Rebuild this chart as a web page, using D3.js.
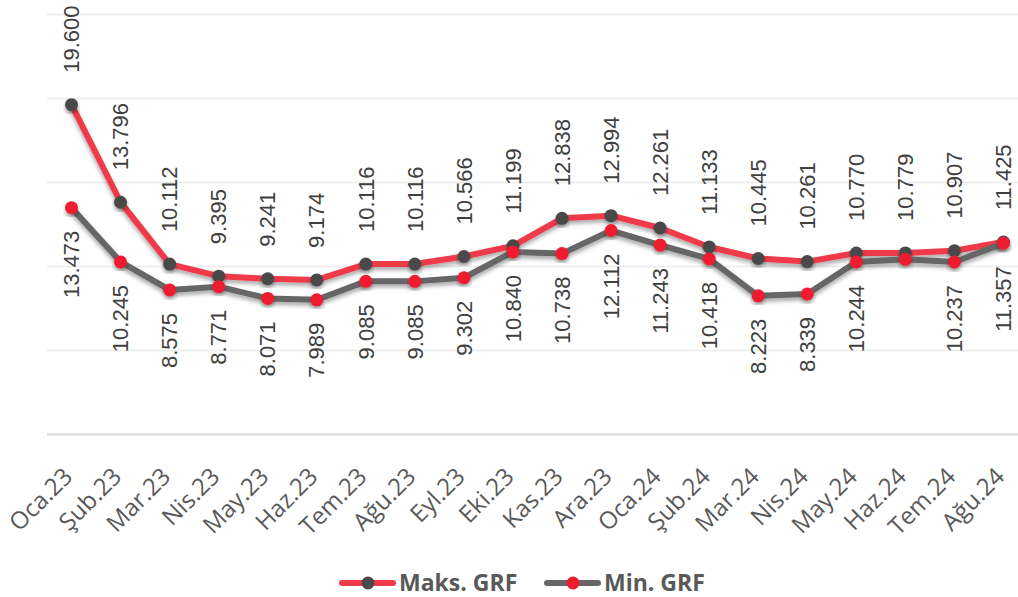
<!DOCTYPE html>
<html>
<head>
<meta charset="utf-8">
<script src="https://cdn.jsdelivr.net/npm/d3@7"></script>
<style>
  body { margin: 0; background: #fff; }
</style>
</head>
<body>
<div id="chart"></div>
<script>
// Categories and values.
const months = ["Oca.23", "Şub.23", "Mar.23", "Nis.23", "May.23", "Haz.23", "Tem.23", "Ağu.23", "Eyl.23", "Eki.23",
  "Kas.23", "Ara.23", "Oca.24", "Şub.24", "Mar.24", "Nis.24", "May.24", "Haz.24", "Tem.24", "Ağu.24"];
const maxGrf = [19.600, 13.796, 10.112, 9.395, 9.241, 9.174, 10.116, 10.116, 10.566, 11.199,
  12.838, 12.994, 12.261, 11.133, 10.445, 10.261, 10.770, 10.779, 10.907, 11.425];
const minGrf = [13.473, 10.245, 8.575, 8.771, 8.071, 7.989, 9.085, 9.085, 9.302, 10.840,
  10.738, 12.112, 11.243, 10.418, 8.223, 8.339, 10.244, 10.400, 10.237, 11.357];
// Haz.24 min label is not shown in the original.
const minLabelHidden = ["Haz.24"];
const yTicks = [0, 5, 10, 15, 20, 25];

const W = 1018, H = 597;
const textColor = "#404040";

const svg = d3.select("#chart").append("svg")
  .attr("width", W)
  .attr("height", H);

const defs = svg.append("defs");
const shadow = defs.append("filter")
  .attr("id", "shadow")
  .attr("x", "-10%").attr("y", "-10%")
  .attr("width", "120%").attr("height", "130%");
shadow.append("feDropShadow")
  .attr("dx", 0).attr("dy", 3)
  .attr("stdDeviation", 2)
  .attr("flood-color", "#000")
  .attr("flood-opacity", 0.35);

const x = d3.scalePoint()
  .domain(months)
  .range([47, 1028])
  .padding(0.5);

const y = d3.scaleLinear()
  .domain([0, 25])
  .range([434, 14]);

// Gridlines.
svg.append("g")
  .attr("transform", "translate(47,0)")
  .call(d3.axisLeft(y).tickValues(yTicks).tickSize(-(1028 - 47)).tickFormat(""))
  .call(g => g.select(".domain").remove())
  .call(g => g.selectAll(".tick line")
    .attr("stroke", d => d === 0 ? "#d9d9d9" : "#ebebeb")
    .attr("stroke-width", d => d === 0 ? 2 : 1.5));

// X axis labels.
const xAxis = svg.append("g")
  .attr("transform", "translate(0,434)")
  .call(d3.axisBottom(x).tickSize(0).tickPadding(0))
  .call(g => g.select(".domain").remove());
xAxis.selectAll(".tick text")
  .attr("transform", "translate(-4,38) rotate(-45)")
  .attr("text-anchor", "end")
  .attr("dy", "0.35em")
  .attr("y", 0)
  .style("font-family", "'Open Sans', sans-serif")
  .style("font-size", "24px")
  .style("fill", "#595959");

const line = d3.line()
  .x((d, i) => x(months[i]))
  .y(d => y(d));

// Maks. GRF series.
svg.append("path")
  .datum(maxGrf)
  .attr("d", line)
  .attr("fill", "none")
  .attr("stroke", "#ef3a4a")
  .attr("stroke-width", 6)
  .attr("stroke-linejoin", "round")
  .attr("filter", "url(#shadow)");

svg.append("g").selectAll("circle")
  .data(maxGrf)
  .join("circle")
    .attr("cx", (d, i) => x(months[i]))
    .attr("cy", d => y(d))
    .attr("r", 6.5)
    .attr("fill", "#4a4a4a")
    .attr("filter", "url(#shadow)");

// Min. GRF series.
svg.append("path")
  .datum(minGrf)
  .attr("d", line)
  .attr("fill", "none")
  .attr("stroke", "#666666")
  .attr("stroke-width", 6)
  .attr("stroke-linejoin", "round")
  .attr("filter", "url(#shadow)");

svg.append("g").selectAll("circle")
  .data(minGrf)
  .join("circle")
    .attr("cx", (d, i) => x(months[i]))
    .attr("cy", d => y(d))
    .attr("r", 6.5)
    .attr("fill", "#ee1c2e")
    .attr("filter", "url(#shadow)");

const fmt = d3.format(".3f");

// Labels above the max points.
svg.append("g").selectAll("text")
  .data(maxGrf.map((v, i) => ({v: v, m: months[i]})))
  .join("text")
    .attr("transform", d => "translate(" + x(d.m) + "," + (y(d.v) - 32) + ") rotate(-90)")
    .attr("text-anchor", "start")
    .attr("dy", "0.35em")
    .style("font-family", "'Liberation Sans', Arial, sans-serif")
    .style("font-size", "22px")
    .style("fill", textColor)
    .text(d => fmt(d.v));

// Labels below the min points.
svg.append("g").selectAll("text")
  .data(minGrf.map((v, i) => ({v: v, m: months[i]})).filter(d => !minLabelHidden.includes(d.m)))
  .join("text")
    .attr("transform", d => "translate(" + x(d.m) + "," + (y(d.v) + 23) + ") rotate(-90)")
    .attr("text-anchor", "end")
    .attr("dy", "0.35em")
    .style("font-family", "'Liberation Sans', Arial, sans-serif")
    .style("font-size", "22px")
    .style("fill", textColor)
    .text(d => fmt(d.v));

// Legend.
const legendItems = [
  {name: "Maks. GRF", line: "#ef3a4a", dot: "#4a4a4a", x: 339},
  {name: "Min. GRF", line: "#666666", dot: "#ee1c2e", x: 544}
];
const legend = svg.append("g").attr("transform", "translate(0,583)");
legendItems.forEach(item => {
  legend.append("line")
    .attr("x1", item.x + 3).attr("x2", item.x + 54)
    .attr("y1", 0).attr("y2", 0)
    .attr("stroke", item.line)
    .attr("stroke-width", 6)
    .attr("stroke-linecap", "round");
  legend.append("circle")
    .attr("cx", item.x + 29).attr("cy", 0)
    .attr("r", 6.5)
    .attr("fill", item.dot);
  legend.append("text")
    .attr("x", item.x + 60)
    .attr("y", 0)
    .attr("dy", "0.35em")
    .style("font-family", "'Open Sans', sans-serif")
    .style("font-size", "23px")
    .style("font-weight", "700")
    .style("fill", "#595959")
    .text(item.name);
});
</script>
</body>
</html>
